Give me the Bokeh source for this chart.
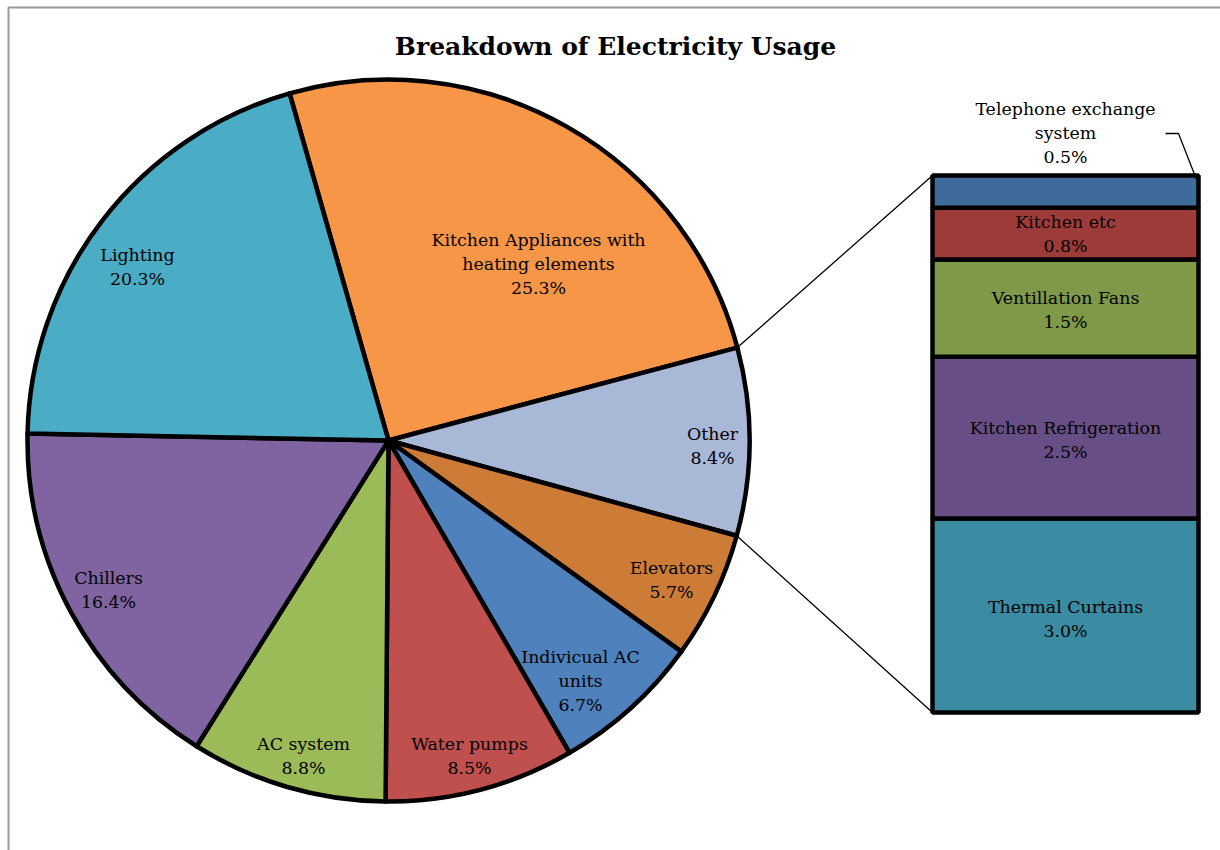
import math
from bokeh.plotting import figure
from bokeh.models import Range1d, ColumnDataSource
from bokeh.core.properties import value
from bokeh.embed import file_html
from bokeh.resources import INLINE

# ---------------- data ----------------
title = "Breakdown of Electricity Usage"
pie_labels = ["Kitchen Appliances with heating elements", "Other", "Elevators",
              "Indivicual AC units", "Water pumps", "AC system", "Chillers", "Lighting"]
pie_values = [25.3, 8.4, 5.7, 6.7, 8.5, 8.8, 16.4, 20.3]
pie_colors = ["#F79646", "#A9B8D7", "#CD7C38", "#4F81BD", "#C0504D",
              "#9BBB59", "#8064A2", "#4BACC6"]

bar_labels = ["Thermal Curtains", "Kitchen Refrigeration", "Ventillation Fans",
              "Kitchen etc", "Telephone exchange system"]
bar_values = [3.0, 2.5, 1.5, 0.8, 0.5]
bar_colors = ["#3B8BA3", "#684E86", "#7E9A48", "#9D3B39", "#3F6A9C"]

# ---------------- layout ----------------
W, H = 1220, 850
FONT = "DejaVu Serif"
def Y(py):  # pixel-from-top -> data y
    return H - py

cx, cy, R = 388, Y(440), 361
start_deg = -15.9          # clockwise from 12 o'clock
bar_l, bar_r, bar_top, bar_bot = 932, 1198, Y(175), Y(712)

# label wrapping and positions (pixel centres of first line), layout only
pie_label_lines = {
    "Kitchen Appliances with heating elements": ["Kitchen Appliances with", "heating elements"],
    "Indivicual AC units": ["Indivicual AC", "units"],
}
pie_label_pos = [(538, 239), (712, 433), (671, 567), (580, 656),
                 (469, 743), (303, 743), (108, 577), (137, 254)]
bar_label_lines = {"Telephone exchange system": ["Telephone exchange", "system"]}
bar_label_pos = [(1065, 606), (1065, 427), (1065, 297), (1065, 221), (1065, 108)]
LINE_H = 24

p = figure(width=W, height=H, x_range=Range1d(0, W), y_range=Range1d(0, H),
           output_backend="svg", toolbar_location=None,
           x_axis_location=None, y_axis_location=None, min_border=0)
p.grid.visible = False
p.outline_line_color = None
p.background_fill_color = "white"

# outer chart border
p.line(x=[8, 8, W + 10], y=[-10, Y(7), Y(7)], line_color="#9a9a9a", line_width=2)

# ---------------- pie ----------------
total = sum(pie_values)
starts, ends = [], []
acc = start_deg
for v in pie_values:
    starts.append(acc)
    acc += v / total * 360.0
    ends.append(acc)

src = ColumnDataSource(dict(
    start=[math.radians(90 - s) for s in starts],
    end=[math.radians(90 - e) for e in ends],
    color=pie_colors))
p.wedge(x=cx, y=cy, radius=R, start_angle="start", end_angle="end",
        direction="clock", fill_color="color", line_color="black",
        line_width=4.5, line_join="round", source=src)

# ---------------- connector lines ----------------
oi = pie_labels.index("Other")
a1, a2 = math.radians(starts[oi]), math.radians(ends[oi])
p.line(x=[cx + R * math.sin(a1), bar_l], y=[cy + R * math.cos(a1), bar_top],
       line_color="black", line_width=1.3)
p.line(x=[cx + R * math.sin(a2), bar_l], y=[cy + R * math.cos(a2), bar_bot],
       line_color="black", line_width=1.3)

# ---------------- stacked bar ----------------
btotal = sum(bar_values)
unit = (bar_top - bar_bot) / btotal
bottoms, tops = [], []
acc = 0.0
for v in bar_values:
    bottoms.append(bar_bot + acc * unit)
    acc += v
    tops.append(bar_bot + acc * unit)
bsrc = ColumnDataSource(dict(bottom=bottoms, top=tops, color=bar_colors))
p.quad(left=bar_l, right=bar_r, bottom="bottom", top="top",
       fill_color="color", line_color="black", line_width=4.5, source=bsrc)

# telephone leader line
ti = bar_labels.index("Telephone exchange system")
p.line(x=[1165, 1178, bar_r - 2], y=[Y(133), Y(133), tops[ti] - 4],
       line_color="black", line_width=1.3)

# ---------------- labels ----------------
tx, ty, tt = [], [], []
for name, v, (lx, ly) in zip(pie_labels, pie_values, pie_label_pos):
    lines = pie_label_lines.get(name, [name]) + [f"{v:.1f}%"]
    for i, s in enumerate(lines):
        tx.append(lx); ty.append(Y(ly + i * LINE_H)); tt.append(s)
for name, v, (lx, ly) in zip(bar_labels, bar_values, bar_label_pos):
    lines = bar_label_lines.get(name, [name]) + [f"{v:.1f}%"]
    for i, s in enumerate(lines):
        tx.append(lx); ty.append(Y(ly + i * LINE_H)); tt.append(s)

p.text(x=tx, y=ty, text=tt, text_font=value(FONT), text_font_size="17.4px",
       text_align="center", text_baseline="middle", text_color="black")

p.text(x=[615], y=[Y(46)], text=[title], text_font=value(FONT),
       text_font_size="25px", text_font_style="bold",
       text_align="center", text_baseline="middle", text_color="black")

open("out.html", "w").write(file_html(p, INLINE))
